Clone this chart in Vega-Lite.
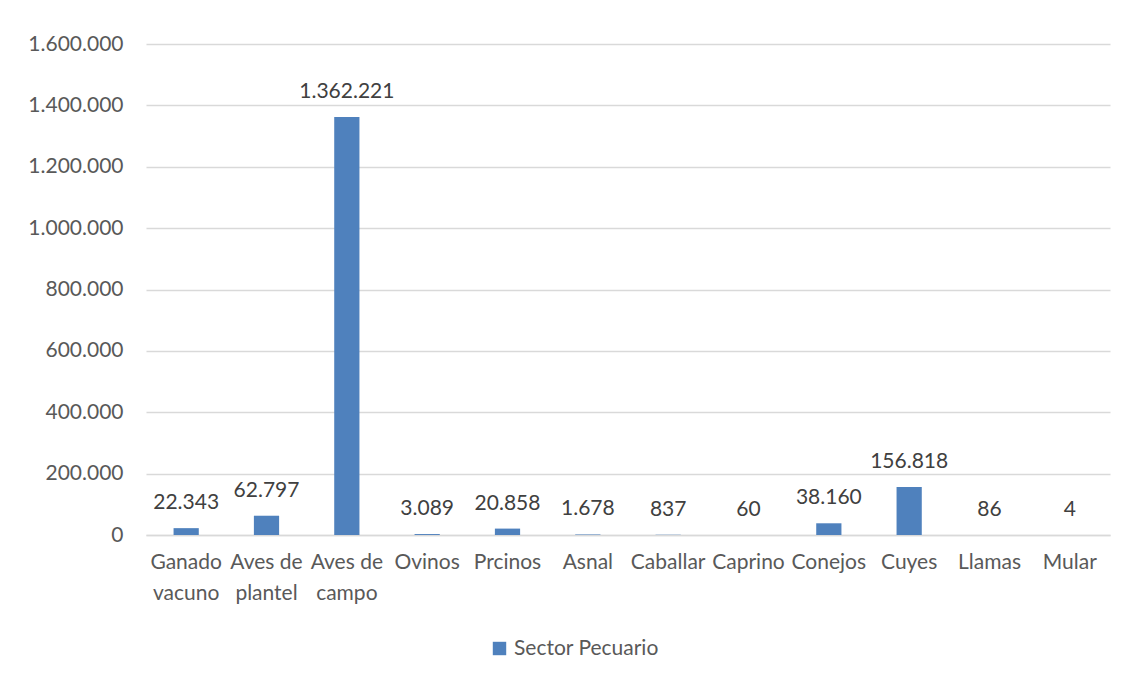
{
  "$schema": "https://vega.github.io/schema/vega-lite/v6.json",
  "autosize": {"type": "none"},
  "width": 964,
  "height": 491,
  "padding": {"left": 146, "top": 44, "right": 18, "bottom": 145},
  "background": "white",
  "config": {
    "locale": {"number": {"decimal": ",", "thousands": ".", "grouping": [3], "currency": ["", ""]}},
    "view": {"stroke": null},
    "font": "Lato"
  },
  "data": {
    "values": [
      {"animal": "Ganado vacuno", "valor": 22343, "serie": "Sector Pecuario"},
      {"animal": "Aves de plantel", "valor": 62797, "serie": "Sector Pecuario"},
      {"animal": "Aves de campo", "valor": 1362221, "serie": "Sector Pecuario"},
      {"animal": "Ovinos", "valor": 3089, "serie": "Sector Pecuario"},
      {"animal": "Prcinos", "valor": 20858, "serie": "Sector Pecuario"},
      {"animal": "Asnal", "valor": 1678, "serie": "Sector Pecuario"},
      {"animal": "Caballar", "valor": 837, "serie": "Sector Pecuario"},
      {"animal": "Caprino", "valor": 60, "serie": "Sector Pecuario"},
      {"animal": "Conejos", "valor": 38160, "serie": "Sector Pecuario"},
      {"animal": "Cuyes", "valor": 156818, "serie": "Sector Pecuario"},
      {"animal": "Llamas", "valor": 86, "serie": "Sector Pecuario"},
      {"animal": "Mular", "valor": 4, "serie": "Sector Pecuario"}
    ]
  },
  "encoding": {
    "x": {
      "field": "animal",
      "type": "nominal",
      "sort": null,
      "scale": {"paddingInner": 0.686, "paddingOuter": 0.343},
      "axis": {
        "title": null,
        "labelAngle": 0,
        "labelFontSize": 21,
        "labelColor": "#595959",
        "labelFont": "Lato",
        "labelLineHeight": 31,
        "labelPadding": 16,
        "labelBaseline": "top",
        "labelOverlap": false,
        "labelLimit": 0,
        "ticks": false,
        "domainColor": "#d9d9d9",
        "domainWidth": 1.5,
        "labelExpr": "datum.value == 'Ganado vacuno' ? ['Ganado', 'vacuno'] : datum.value == 'Aves de plantel' ? ['Aves de', 'plantel'] : datum.value == 'Aves de campo' ? ['Aves de', 'campo'] : datum.value"
      }
    },
    "y": {
      "field": "valor",
      "type": "quantitative",
      "scale": {"domain": [0, 1600000], "nice": false},
      "axis": {
        "title": null,
        "values": [0, 200000, 400000, 600000, 800000, 1000000, 1200000, 1400000, 1600000],
        "format": ",d",
        "labelFontSize": 21,
        "labelColor": "#595959",
        "labelFont": "Lato",
        "labelPadding": 23,
        "ticks": false,
        "domain": false,
        "gridColor": "#d9d9d9",
        "gridWidth": 1.5
      }
    }
  },
  "layer": [
    {
      "mark": {"type": "bar", "color": "#4f81bd"},
      "encoding": {
        "color": {
          "field": "serie",
          "type": "nominal",
          "scale": {"range": ["#4f81bd"]},
          "legend": {
            "title": null,
            "orient": "none",
            "legendX": 343,
            "legendY": 594,
            "symbolType": "square",
            "symbolSize": 180,
            "symbolStrokeWidth": 0,
            "labelFontSize": 21,
            "labelColor": "#595959",
            "labelFont": "Lato",
            "labelOffset": 4
          }
        }
      }
    },
    {
      "mark": {"type": "text", "baseline": "middle", "dy": -25, "fontSize": 21, "color": "#404040", "font": "Lato"},
      "encoding": {
        "text": {"field": "valor", "type": "quantitative", "format": ",d"}
      }
    }
  ]
}
